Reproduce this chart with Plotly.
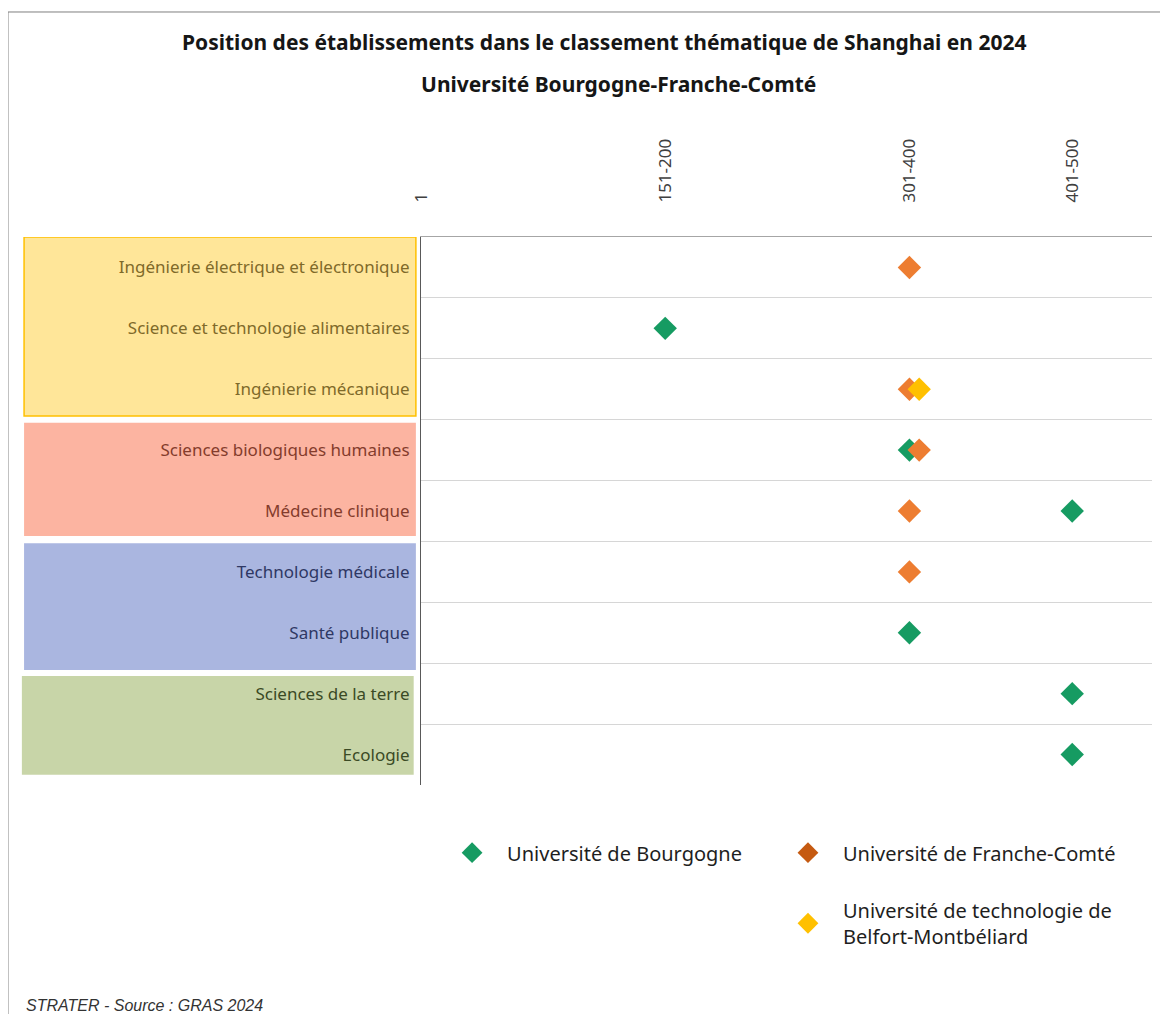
import plotly.graph_objects as go

# Thématiques (du haut vers le bas) et leur groupe disciplinaire
thematiques = [
    "Ingénierie électrique et électronique",
    "Science et technologie alimentaires",
    "Ingénierie mécanique",
    "Sciences biologiques humaines",
    "Médecine clinique",
    "Technologie médicale",
    "Santé publique",
    "Sciences de la terre",
    "Ecologie",
]
groupes = [0, 0, 0, 1, 1, 2, 2, 3, 3]

# Tranches du classement affichées sur l'axe
tranches = ["1", "151-200", "301-400", "401-500"]

# Rang par établissement (None = non classé)
bourgogne = [None, "151-200", None, "301-400", "401-500", None, "301-400", "401-500", "401-500"]
franche_comte = ["301-400", None, "301-400", "301-400", "301-400", "301-400", None, None, None]
utbm = [None, None, "301-400", None, None, None, None, None, None]

# nom, rangs, couleur des points, couleur dans la légende, légende
etablissements = [
    ("Université de Bourgogne", bourgogne, "#169B62", "#169B62", "legend"),
    ("Université de Franche-Comté", franche_comte, "#ED7D31", "#C55A11", "legend2"),
    ("Université de technologie de<br>Belfort-Montbéliard", utbm, "#FFC000", "#FFC000", "legend3"),
]

# couleurs des blocs de libellés : fond, bordure, texte
styles_groupes = [
    ("#FFE699", "#FFC000", "#7F6A2A"),
    ("#FCB4A1", "#FCB4A1", "#843C2C"),
    ("#AAB6E0", "#AAB6E0", "#2F3864"),
    ("#C8D5A8", "#C8D5A8", "#3B4A25"),
]


def position(tranche):
    # position = borne basse de la tranche - 1
    return int(tranche.split("-")[0]) - 1


fig = go.Figure()

deja_places = {}
for nom, rangs, couleur, couleur_leg, leg in etablissements:
    xs, ys = [], []
    for theme, r in zip(thematiques, rangs):
        if r is None:
            continue
        n = deja_places.get((theme, r), 0)
        deja_places[(theme, r)] = n + 1
        xs.append(position(r) + 6 * n)  # léger décalage si superposition
        ys.append(theme)
    fig.add_trace(go.Scatter(
        x=xs, y=ys, mode="markers", name=nom, showlegend=False,
        marker=dict(symbol="diamond", size=18, color=couleur, line=dict(width=0)),
    ))
    # entrée de légende seule
    fig.add_trace(go.Scatter(
        x=[None], y=[None], mode="markers", name=nom, legend=leg,
        marker=dict(symbol="diamond", size=18, color=couleur_leg, line=dict(width=0)),
    ))

ticktext_y = [
    f"<span style='color:{styles_groupes[g][2]}'>{t}</span>"
    for t, g in zip(thematiques, groupes)
]

# blocs colorés derrière les libellés
shapes = []
pads = [(-0.5, 0.44), (-0.45, 0.41), (-0.47, 0.61), (-0.29, 0.33)]
for g, (fond, bord, _) in enumerate(styles_groupes):
    idx = [i for i, gg in enumerate(groupes) if gg == g]
    x0 = -0.543 if g != 3 else -0.546
    x1 = -0.007 if g != 3 else -0.010
    shapes.append(dict(
        type="rect", xref="paper", yref="y", layer="below",
        x0=x0, x1=x1, y0=min(idx) + pads[g][0], y1=max(idx) + pads[g][1],
        fillcolor=fond, line=dict(color=bord, width=1.5 if g == 0 else 0),
    ))
# cadre gris
shapes.append(dict(
    type="rect", xref="paper", yref="paper",
    x0=-0.565, x1=1.05, y0=-0.6, y1=1.4106,
    line=dict(color="#7F7F7F", width=1), fillcolor="rgba(0,0,0,0)",
))

leg_style = dict(
    orientation="h", xanchor="left", yanchor="top",
    font=dict(size=20, color="#1E1E1E"), itemwidth=60,
    bgcolor="rgba(0,0,0,0)",
)

fig.update_layout(
    width=1160, height=1006,
    margin=dict(l=413, r=16, t=229, b=229),
    paper_bgcolor="white", plot_bgcolor="white",
    font=dict(family="Noto Sans", color="#404040"),
    shapes=shapes,
    xaxis=dict(
        side="top", range=[0, 449],
        tickvals=[position(t) for t in tranches], ticktext=tranches,
        tickangle=-90, tickfont=dict(size=17, color="#404040"),
        ticks="", ticklabelstandoff=30,
        showgrid=False, zeroline=False,
        showline=True, linecolor="#A6A6A6", linewidth=1, mirror=False,
    ),
    yaxis=dict(
        type="category", categoryorder="array", categoryarray=thematiques,
        range=[8.5, -0.5],
        tickvals=thematiques, ticktext=ticktext_y,
        tickson="boundaries", ticks="", ticklabelstandoff=7,
        tickfont=dict(size=17),
        showgrid=True, gridcolor="#D6D6D6", gridwidth=1,
        showline=True, linecolor="#595959", linewidth=1,
    ),
    legend=dict(leg_style, x=0.022, y=-0.088),
    legend2=dict(leg_style, x=0.4815, y=-0.088),
    legend3=dict(leg_style, x=0.4815, y=-0.193),
    annotations=[
        dict(text="<b>Position des établissements dans le classement thématique de Shanghai en 2024</b>",
             xref="paper", yref="paper", x=0.25, y=1.356, xanchor="center", yanchor="middle",
             showarrow=False, font=dict(size=21, color="#161616")),
        dict(text="<b>Université Bourgogne-Franche-Comté</b>",
             xref="paper", yref="paper", x=0.27, y=1.279, xanchor="center", yanchor="middle",
             showarrow=False, font=dict(size=21, color="#161616")),
        dict(text="<i>STRATER - Source : GRAS 2024</i>",
             xref="paper", yref="paper", x=-0.543, y=-0.402, xanchor="left", yanchor="middle",
             showarrow=False, font=dict(size=16, family="Liberation Sans", color="#333333")),
    ],
)

fig.write_html("out.html")
